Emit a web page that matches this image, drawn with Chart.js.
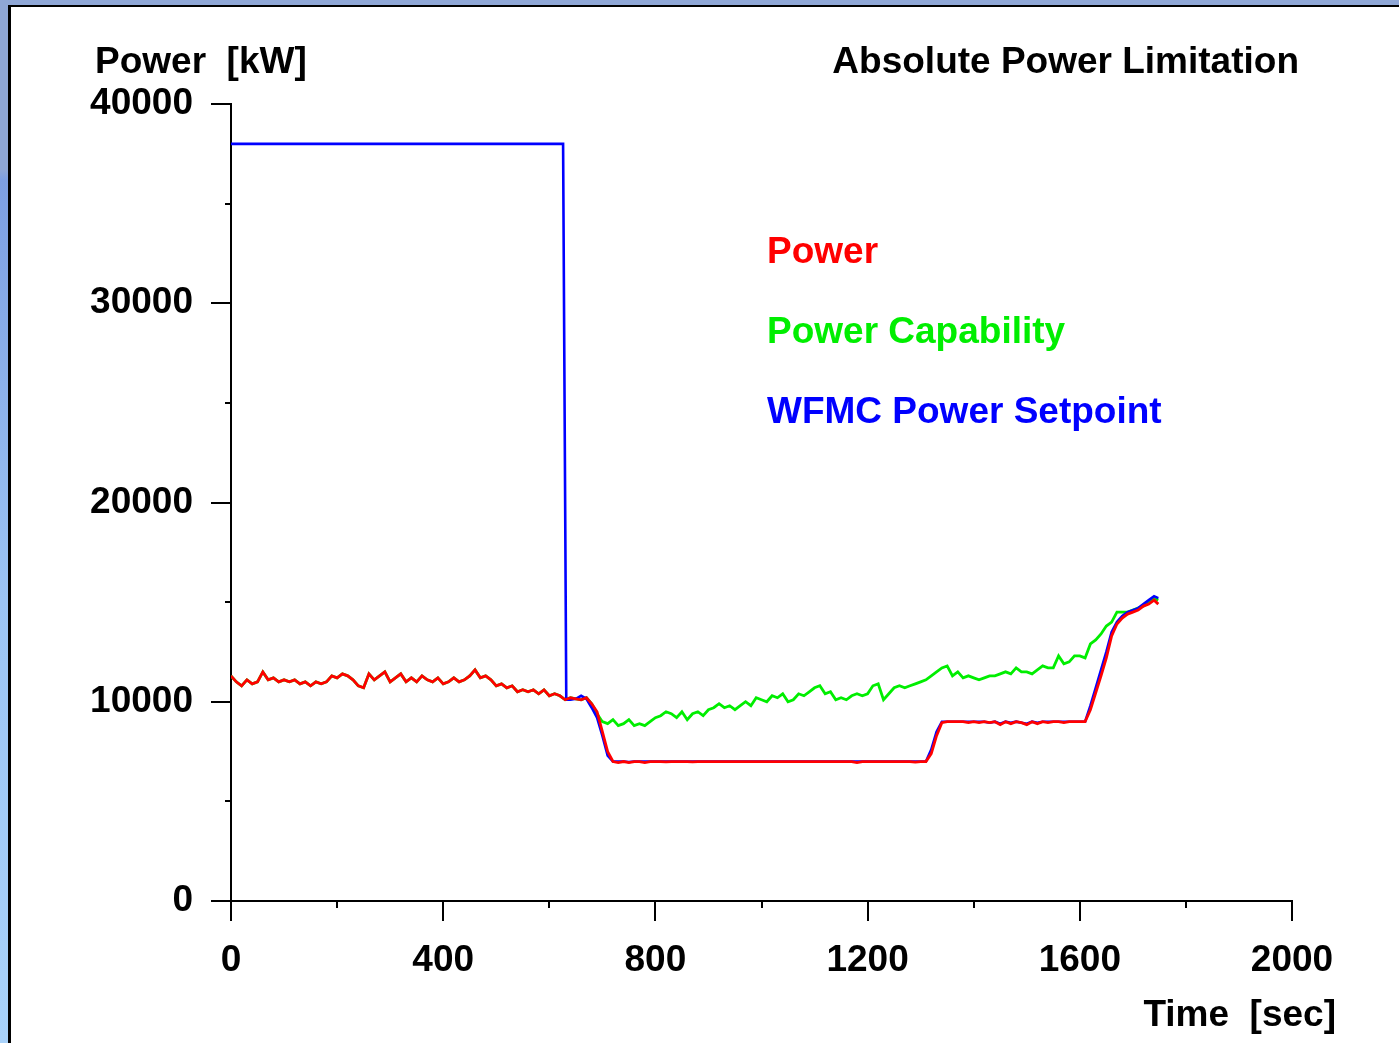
<!DOCTYPE html>
<html>
<head>
<meta charset="utf-8">
<script src="https://cdn.jsdelivr.net/npm/chart.js@4.4.1/dist/chart.umd.min.js"></script>
<style>
  html, body { margin: 0; padding: 0; }
  body { width: 1399px; height: 1043px; overflow: hidden; position: relative;
         background: linear-gradient(180deg, #8fa7d6 0px, #8fa7d6 170px, #7d9fe2 180px, #9cc4f4 600px, #a9d2fa 1043px); }
  #panel { position: absolute; left: 8px; top: 5px; right: 0; bottom: 0; background: #fff;
           border-left: 3px solid #000; border-top: 2px solid #000; }
  #c { position: absolute; left: 0; top: 0; }
  .t { position: absolute; font-family: "Liberation Sans", Arial, sans-serif; font-weight: bold;
       font-size: 37px; line-height: 37px; white-space: pre; }
</style>
</head>
<body>
<div id="panel"></div>
<canvas id="c" width="1399" height="1043"></canvas>
<div class="t" style="left:95px; top:42px; color:#000;">Power  [kW]</div>
<div class="t" style="right:100px; top:42px; color:#000;">Absolute Power Limitation</div>
<div class="t" style="left:767px; top:232px; color:#ff0000;">Power</div>
<div class="t" style="left:767px; top:312px; color:#00ee00;">Power Capability</div>
<div class="t" style="left:767px; top:392px; color:#0000ff;">WFMC Power Setpoint</div>
<div class="t" style="right:63px; top:995px; color:#000;">Time  [sec]</div>
<script>
const timeSec = [0,10,20,30,40,50,60,70,80,90,100,110,120,130,140,150,160,170,180,190,200,210,220,230,240,250,260,270,280,290,300,310,320,330,340,350,360,370,380,390,400,410,420,430,440,450,460,470,480,490,500,510,520,530,540,550,560,570,580,590,600,610,620,630,640,650,660,670,680,690,700,710,720,730,740,750,760,770,780,790,800,810,820,830,840,850,860,870,880,890,900,910,920,930,940,950,960,970,980,990,1000,1010,1020,1030,1040,1050,1060,1070,1080,1090,1100,1110,1120,1130,1140,1150,1160,1170,1180,1190,1200,1210,1220,1230,1240,1250,1260,1270,1280,1290,1300,1310,1320,1330,1340,1350,1360,1370,1380,1390,1400,1410,1420,1430,1440,1450,1460,1470,1480,1490,1500,1510,1520,1530,1540,1550,1560,1570,1580,1590,1600,1610,1620,1630,1640,1650,1660,1670,1680,1690,1700,1710,1720,1730,1740,1748];

const power = [11300,11000,10800,11100,10900,11000,11500,11100,11200,11000,11100,11000,11100,10900,11000,10800,11000,10900,11000,11300,11200,11400,11300,11100,10800,10700,11400,11100,11300,11500,11000,11200,11400,11000,11200,11000,11300,11100,11000,11200,10900,11000,11200,11000,11100,11300,11600,11200,11300,11100,10800,10900,10700,10800,10500,10600,10500,10600,10400,10600,10300,10400,10300,10100,10200,10150,10100,10200,9900,9500,8500,7500,7000,6950,7000,6950,7000,7000,6950,7000,7000,7000,6980,7000,7000,7000,7000,6980,7000,7000,7000,7000,7000,7000,7000,7000,7000,7000,7000,7000,7000,7000,7000,7000,7000,7000,7000,7000,7000,7000,7000,7000,7000,7000,7000,7000,7000,7000,6950,7000,7000,7000,7000,7000,7000,7000,7000,7000,7000,6970,7000,7000,7400,8300,8950,9000,9000,9000,9000,8950,9000,8950,9000,8950,9000,8850,9000,8900,9000,8950,8850,9000,8900,9000,8950,9000,9000,8950,9000,9000,9000,9000,9600,10450,11300,12200,13300,13900,14200,14400,14500,14600,14800,14900,15100,14900];

const powerCapability = [11300,11000,10800,11100,10900,11000,11500,11100,11200,11000,11100,11000,11100,10900,11000,10800,11000,10900,11000,11300,11200,11400,11300,11100,10800,10700,11400,11100,11300,11500,11000,11200,11400,11000,11200,11000,11300,11100,11000,11200,10900,11000,11200,11000,11100,11300,11600,11200,11300,11100,10800,10900,10700,10800,10500,10600,10500,10600,10400,10600,10300,10400,10300,10100,10200,10150,10100,10200,9900,9400,9000,8900,9100,8800,8900,9100,8800,8900,8800,9000,9200,9300,9500,9400,9200,9500,9100,9400,9500,9300,9600,9700,9900,9700,9800,9600,9800,10000,9800,10200,10100,10000,10300,10200,10400,10000,10100,10400,10300,10500,10700,10800,10400,10500,10100,10200,10100,10300,10400,10300,10400,10800,10900,10100,10400,10700,10800,10700,10800,10900,11000,11100,11300,11500,11700,11800,11300,11500,11200,11300,11200,11100,11200,11300,11300,11400,11500,11400,11700,11500,11500,11400,11600,11800,11700,11700,12300,11900,12000,12300,12300,12200,12900,13100,13400,13800,14000,14500,14500,14500,14600,14700,14800,15000,15200,15100];

const setpointTime = [0,626,632,640,650,660,670,680,690,700,710,720,730,740,750,760,770,780,790,800,810,820,830,840,850,860,870,880,890,900,910,920,930,940,950,960,970,980,990,1000,1010,1020,1030,1040,1050,1060,1070,1080,1090,1100,1110,1120,1130,1140,1150,1160,1170,1180,1190,1200,1210,1220,1230,1240,1250,1260,1270,1280,1290,1300,1310,1320,1330,1340,1350,1360,1370,1380,1390,1400,1410,1420,1430,1440,1450,1460,1470,1480,1490,1500,1510,1520,1530,1540,1550,1560,1570,1580,1590,1600,1610,1620,1630,1640,1650,1660,1670,1680,1690,1700,1710,1720,1730,1740,1748];

const setpoint = [38000,38000,10100,10100,10150,10300,10150,9700,9200,8300,7300,7000,7000,7000,6980,7000,7000,7000,7000,7000,7000,7000,7000,7000,7000,7000,7000,7000,7000,7000,7000,7000,7000,7000,7000,7000,7000,7000,7000,7000,7000,7000,7000,7000,7000,7000,7000,7000,7000,7000,7000,7000,7000,7000,7000,7000,7000,7000,7000,7000,7000,7000,7000,7000,7000,7000,7000,7000,7000,7000,7000,7600,8500,9000,9000,9000,9000,9000,9000,9000,9000,9000,8950,9000,8900,9000,8950,9000,8950,8900,9000,8950,9000,9000,9000,9000,9000,9000,9000,9000,9000,9800,10700,11600,12500,13500,14000,14300,14500,14600,14700,14900,15100,15300,15200];

const xTicks = [0, 400, 800, 1200, 1600, 2000];
const xMinorTicks = [200, 600, 1000, 1400, 1800];
const yTicks = [0, 10000, 20000, 30000, 40000];
const yMinorTicks = [5000, 15000, 25000, 35000];

const pts = (xs, ys) => xs.map((x, i) => ({ x: x, y: ys[i] }));

const minorTicks = {
  id: 'minorTicks',
  afterDraw(chart) {
    const ctx = chart.ctx, xs = chart.scales.x, ys = chart.scales.y;
    ctx.save();
    ctx.strokeStyle = '#000';
    ctx.lineWidth = 2;
    ctx.beginPath();
    yMinorTicks.forEach(v => {
      const py = Math.round(ys.getPixelForValue(v));
      ctx.moveTo(xs.left - 6, py); ctx.lineTo(xs.left, py);
    });
    xMinorTicks.forEach(v => {
      const px = Math.round(xs.getPixelForValue(v));
      ctx.moveTo(px, ys.bottom); ctx.lineTo(px, ys.bottom + 7);
    });
    ctx.stroke();
    ctx.restore();
  }
};

const font = { family: '"Liberation Sans", Arial, sans-serif', size: 37, weight: 'bold' };

new Chart(document.getElementById('c'), {
  type: 'line',
  data: {
    datasets: [
      { label: 'Power', data: pts(timeSec, power), borderColor: '#ff0000', borderWidth: 2.8, pointRadius: 0, tension: 0 },
      { label: 'WFMC Power Setpoint', data: pts(setpointTime, setpoint), borderColor: '#0000ff', borderWidth: 2.6, pointRadius: 0, tension: 0 },
      { label: 'Power Capability', data: pts(timeSec, powerCapability), borderColor: '#00ee00', borderWidth: 2.8, pointRadius: 0, tension: 0 }
    ]
  },
  options: {
    responsive: false,
    animation: false,
    devicePixelRatio: 1,
    layout: { padding: { left: 0, top: 104, right: 107, bottom: 0 } },
    plugins: { legend: { display: false }, tooltip: { enabled: false } },
    scales: {
      x: {
        type: 'linear', min: 0, max: 2000,
        afterBuildTicks: s => { s.ticks = xTicks.map(v => ({ value: v })); },
        afterFit: s => { s.height = 142; },
        ticks: { font: font, color: '#000', padding: 18, maxRotation: 0, callback: v => String(v) },
        grid: { display: true, drawOnChartArea: false, drawTicks: true, tickLength: 20, color: '#000', lineWidth: 2 },
        border: { display: true, color: '#000', width: 2 }
      },
      y: {
        type: 'linear', min: 0, max: 40000,
        afterBuildTicks: s => { s.ticks = yTicks.map(v => ({ value: v })); },
        afterFit: s => { s.width = 231; },
        ticks: { font: font, color: '#000', padding: 18, callback: v => String(v) },
        grid: { display: true, drawOnChartArea: false, drawTicks: true, tickLength: 20, color: '#000', lineWidth: 2 },
        border: { display: true, color: '#000', width: 2 }
      }
    }
  },
  plugins: [minorTicks]
});
</script>
</body>
</html>
